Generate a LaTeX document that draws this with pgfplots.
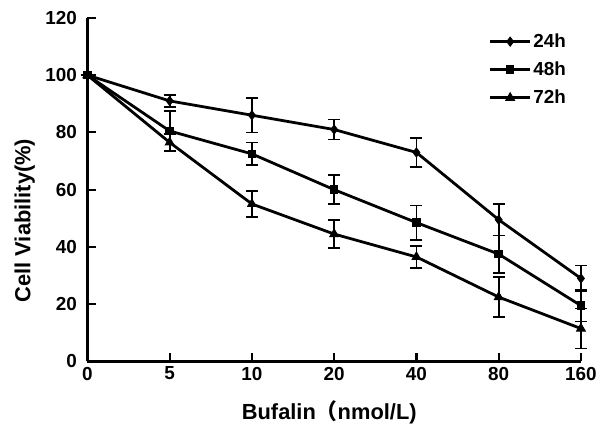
\documentclass[border=0pt]{standalone}
\usepackage{pgfplots}
\pgfplotsset{compat=1.18}
\usepackage{fontspec}
\setmainfont{Liberation Sans}
\newfontfamily\cjk{Noto Sans CJK SC}
\begin{document}
\begin{tikzpicture}
\path (-88pt,-77pt) rectangle (512pt,364pt);
\begin{axis}[
  at={(0,0)}, anchor=south west,
  scale only axis, width=497pt, height=346pt,
  xmin=0, xmax=6, ymin=0, ymax=120,
  axis lines*=left,
  xtick={0,...,6}, xticklabels={0,5,10,20,40,80,160},
  ytick={0,20,...,120},
  tick align=inside,
  major tick length=9pt,
  axis line style={line width=2.4pt},
  tick style={line width=2.2pt, black},
  ticklabel style={font=\fontsize{19}{19}\selectfont\bfseries},
  yticklabel style={xshift=-7pt},
  xticklabel style={yshift=-2pt},
  /pgf/number format/assume math mode=true,
  xlabel={Bufalin{\cjk （}nmol/L)},
  ylabel={Cell Viability(\%)},
  label style={font=\fontsize{22}{24}\selectfont\bfseries},
  xlabel style={at={(axis description cs:0.49,-0.147)}, anchor=center},
  ylabel style={at={(axis description cs:-0.127,0.41)}, anchor=center},
  clip=false,
  cycle list={{black}},
  every axis plot/.append style={black, line width=2.8pt, mark options={solid, fill=black, line width=1pt}},
  error bars/error bar style={line width=1.8pt},
  error bars/error mark options={rotate=90, mark size=6pt, line width=1.8pt},
  legend style={draw=none, fill=none, at={(0.98,0.965)}, anchor=north east,
    font=\fontsize{19}{19}\selectfont\bfseries, row sep=9pt, cells={anchor=west}},
  legend image code/.code={\draw[mark repeat=2, mark phase=2, #1] plot coordinates {(0pt,0pt) (20pt,0pt) (40pt,0pt)};},
]
\addplot+[mark=diamond*, mark size=4.5pt, error bars/.cd, y dir=both, y explicit]
  table[x=x, y=y, y error=e] {
x y e
0 100 0
1 91 2
2 86 6
3 81 3.5
4 73 5
5 49.5 5.5
6 29 4.5
};
\addlegendentry{24h}
\addplot+[mark=square*, mark size=3.8pt, error bars/.cd, y dir=both, y explicit]
  table[x=x, y=y, y error=e] {
x y e
0 100 0
1 80.5 7
2 72.5 4
3 60 5
4 48.5 6
5 37.5 6.5
6 19.5 5.5
};
\addlegendentry{48h}
\addplot+[mark=triangle*, mark size=5pt, error bars/.cd, y dir=both, y explicit]
  table[x=x, y=y, y error=e] {
x y e
0 100 0
1 76.5 3
2 55 4.5
3 44.5 5
4 36.5 3.8
5 22.5 7
6 11.5 7
};
\addlegendentry{72h}
\end{axis}
\end{tikzpicture}
\end{document}
